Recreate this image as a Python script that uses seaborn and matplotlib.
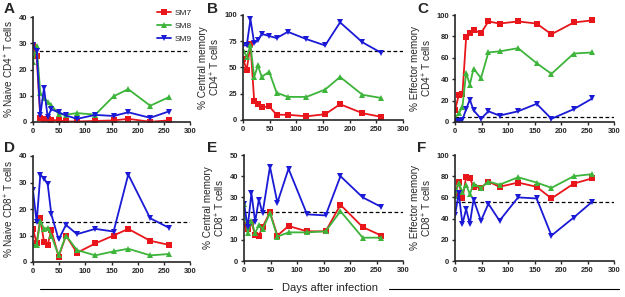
import numpy
import pandas
import seaborn
from matplotlib import pyplot as plt

# Data ------------------------------------------------------------------------------
days = [0, 7, 14, 21, 28, 35, 49, 63, 84, 119, 154, 182, 224, 259]
subjects = ['SM7', 'SM8', 'SM9']

naive_cd4 = {
	'SM7': [29, 25, 1.5, 1.2, 1.0, 0.8, 0.6, 0.2, 0.2, 0.4, 0.6, 1.2, 0.1, 0.6],
	'SM8': [23, 29, 11, 9, 7.8, 6.5, 3, 2.8, 3.4, 2.8, 9.8, 12.5, 6.2, 9.4],
	'SM9': [29.5, 27, 2.5, 13, 2, 4.8, 3.7, 2.5, 1.2, 2.7, 2.3, 3.7, 1.6, 4]}
cm_cd4 = {
	'SM7': [58, 48, 72, 18, 15, 12, 13, 5, 5, 3.5, 5.5, 15, 6.5, 3],
	'SM8': [67, 60, 71, 41, 52, 41, 46, 26, 22, 22, 29, 41, 24, 21],
	'SM9': [71, 71, 96, 73, 76, 82, 80, 78, 84, 77, 71, 93, 74, 64]}
em_cd4 = {
	'SM7': [11, 25, 26, 79, 83, 86, 83, 94, 92, 94, 92, 82, 93, 95],
	'SM8': [4, 8, 14, 46, 35, 50, 41, 65, 66, 69, 55, 45, 64, 65],
	'SM9': [0.5, 1, 2, 12, 21, 11, 3, 10, 6, 10, 17, 3, 12, 22]}
naive_cd8 = {
	'SM7': [12.5, 7, 16.5, 7.5, 6.5, 12, 2, 10, 3.5, 7, 10, 12.5, 8, 6.5],
	'SM8': [6.5, 6.5, 15.5, 12.5, 13, 10, 2.5, 10, 4.5, 2.5, 4, 5, 2.5, 3],
	'SM9': [27, 15, 33, 31.5, 29.5, 18, 8.5, 14, 10.5, 12.5, 11.5, 33, 16.5, 13]}
cm_cd8 = {
	'SM7': [17, 15, 18, 12.5, 12, 16, 23, 12, 16.5, 14, 14, 26.5, 16, 12],
	'SM8': [27, 13, 19, 13, 17, 15, 22.5, 11.5, 13.5, 13.5, 14, 23.5, 11, 11],
	'SM9': [27, 16, 32, 18.5, 29, 22.5, 44.5, 27.5, 43.5, 22, 21.5, 40, 30, 25.5]}
em_cd8 = {
	'SM7': [63, 75, 59, 79, 78, 70, 69, 75, 70, 74, 70, 59, 73, 78],
	'SM8': [61, 74, 65, 72, 63, 73, 69, 75, 72, 79, 74, 69, 80, 82],
	'SM9': [43, 64, 35, 49, 35, 58, 38, 54, 38, 60, 59, 24, 41, 56]}

panel_letters = ['A', 'B', 'C', 'D', 'E', 'F']
panel_data = [naive_cd4, cm_cd4, em_cd4, naive_cd8, cm_cd8, em_cd8]
panel_ylabels = ['% Naive CD4$^{+}$ T cells', '% Central memory\nCD4$^{+}$ T cells',
	'% Effector memory\nCD4$^{+}$ T cells', '% Naive CD8$^{+}$ T cells',
	'% Central memory\nCD8$^{+}$ T cells', '% Effector memory\nCD8$^{+}$ T cells']
panel_ymax = [40, 100, 100, 40, 50, 100]
panel_yticks = [[0, 10, 20, 30, 40], [0, 25, 50, 75, 100], [0, 20, 40, 60, 80, 100],
	[0, 10, 20, 30, 40], [0, 10, 20, 30, 40, 50], [0, 20, 40, 60, 80, 100]]
baselines = [27, 66, 5, 15, 23, 56]

# Style ------------------------------------------------------------------------------
seaborn.set_style('ticks')
plt.rcParams['font.family'] = ['Liberation Sans', 'DejaVu Sans']
plt.rcParams['mathtext.fontset'] = 'custom'
plt.rcParams['mathtext.rm'] = 'Liberation Sans'

palette = {'SM7': '#e8161b', 'SM8': '#3db43a', 'SM9': '#1a1ad6'}
markers = {'SM7': 's', 'SM8': '^', 'SM9': 'v'}

W, H = 625, 297
fig = plt.figure(figsize=(W / 100, H / 100), dpi=100)

# pixel boxes: left, right, top, bottom
boxes = [(33, 190, 17, 122), (243, 403, 15, 120), (455, 614, 15, 122),
	(33, 190, 156, 262), (244, 403, 155, 261), (455, 614, 155, 261)]
# panel letter positions (pixels, top-left)
letter_xy = [(4, 2), (207, 2), (417, 2), (4, 141), (207, 141), (417, 141)]

for i, (l, r, t, b) in enumerate(boxes):
	ax = fig.add_axes([l / W, 1 - b / H, (r - l) / W, (b - t) / H])
	df = pandas.DataFrame([
		{'day': d, 'value': v, 'subject': s}
		for s in subjects for d, v in zip(days, panel_data[i][s])])
	seaborn.lineplot(data=df, x='day', y='value', hue='subject', style='subject',
		palette=palette, markers=markers, dashes=False, markersize=4.5,
		markeredgewidth=0, linewidth=1.3, ax=ax, legend=(i == 0))
	ax.axhline(baselines[i], color='black', linestyle=(0, (3, 2)), linewidth=0.9, zorder=0)
	ax.set_xlim(0, 300)
	ax.set_ylim(0, panel_ymax[i])
	ax.set_xticks(numpy.arange(0, 301, 50))
	ax.set_yticks(panel_yticks[i])
	ax.tick_params(labelsize=5.5, length=2.5, width=1, pad=1.5)
	for lbl in ax.get_xticklabels() + ax.get_yticklabels():
		lbl.set_fontweight('bold')
	ax.set_xlabel('')
	ax.set_ylabel(panel_ylabels[i], fontsize=7.2, labelpad=2, linespacing=1.05)
	for side in ['left', 'bottom']:
		ax.spines[side].set_linewidth(1.2)
	seaborn.despine(ax=ax)
	lx, ly = letter_xy[i]
	fig.text(lx / W, 1 - ly / H, panel_letters[i], fontsize=11, fontweight='bold',
		va='top', ha='left')
	if i == 0:
		leg = ax.legend(loc='upper left', bbox_to_anchor=(153 / W, 1 - 5 / H),
			bbox_transform=fig.transFigure, frameon=False, fontsize=6,
			handlelength=1.6, handletextpad=0.5, labelspacing=0.6, borderpad=0)
		leg.set_title(None)

# shared x label with rule lines
fig.text(330 / W, 1 - 288 / H, 'Days after infection', fontsize=8, ha='center', va='center')
fig.add_artist(plt.Line2D([40 / W, 272 / W], [1 - 289 / H] * 2, color='black', linewidth=0.8))
fig.add_artist(plt.Line2D([389 / W, 619 / W], [1 - 289 / H] * 2, color='black', linewidth=0.8))

fig.savefig('out.png', dpi=100)
